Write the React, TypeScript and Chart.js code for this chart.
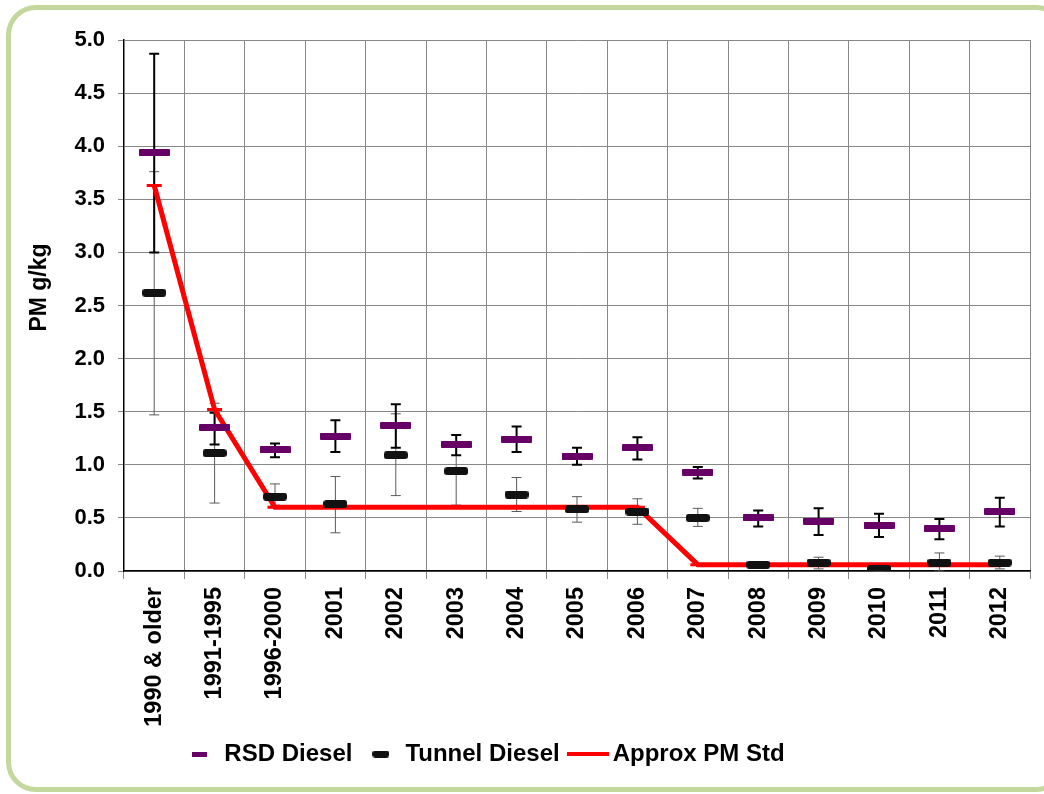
import React, { useEffect, useRef } from 'react';
import { Chart, registerables } from 'chart.js';

Chart.register(...registerables);

const categories = [
  '1990 & older', '1991-1995', '1996-2000', '2001', '2002', '2003', '2004', '2005',
  '2006', '2007', '2008', '2009', '2010', '2011', '2012',
];

const rsdDiesel = [3.94, 1.35, 1.14, 1.27, 1.37, 1.19, 1.24, 1.08, 1.16, 0.93, 0.5, 0.47, 0.43, 0.4, 0.56];
const rsdUpper = [4.87, 1.49, 1.2, 1.42, 1.57, 1.28, 1.36, 1.16, 1.26, 0.98, 0.57, 0.59, 0.54, 0.49, 0.69];
const rsdLower = [3.0, 1.19, 1.07, 1.12, 1.16, 1.09, 1.12, 1.0, 1.05, 0.87, 0.42, 0.34, 0.32, 0.3, 0.42];

const tunnelDiesel = [2.62, 1.11, 0.7, 0.63, 1.09, 0.94, 0.72, 0.58, 0.56, 0.5, 0.06, 0.08, 0.02, 0.08, 0.08];
const tunnelUpper = [3.76, 1.58, 0.82, 0.89, 1.48, 1.18, 0.88, 0.7, 0.68, 0.59, 0.08, 0.13, 0.04, 0.17, 0.14];
const tunnelLower = [1.47, 0.64, 0.62, 0.36, 0.71, 0.62, 0.56, 0.46, 0.44, 0.42, 0.04, 0.02, 0.0, 0.0, 0.02];

const approxPmStd = [3.63, 1.52, 0.6, 0.6, 0.6, 0.6, 0.6, 0.6, 0.6, 0.06, 0.06, 0.06, 0.06, 0.06, 0.06];

const yMin = 0;
const yMax = 5;
const yStep = 0.5;
const yTitle = 'PM g/kg';

const FONT = "'Liberation Sans', Arial, Helvetica, sans-serif";
const PURPLE = '#660066';
const TUNNEL = '#111111';
const RED = '#ff0000';

function makeDash(w: number, h: number, color: string, r: number): HTMLCanvasElement {
  const c = document.createElement('canvas');
  c.width = w;
  c.height = h;
  const ctx = c.getContext('2d')!;
  ctx.fillStyle = color;
  ctx.beginPath();
  if ((ctx as any).roundRect) (ctx as any).roundRect(0, 0, w, h, r);
  else ctx.rect(0, 0, w, h);
  ctx.fill();
  return c;
}

const errorBarsPlugin = {
  id: 'errorBars',
  beforeDatasetsDraw(chart: any) {
    const { ctx, scales } = chart;
    const x = scales.x;
    const y = scales.y;
    const draw = (hi: number[], lo: number[], color: string, lw: number, cap: number) => {
      ctx.save();
      ctx.strokeStyle = color;
      ctx.lineWidth = lw;
      categories.forEach((_, i) => {
        const px = x.getPixelForValue(i);
        const yt = y.getPixelForValue(hi[i]);
        const yb = y.getPixelForValue(lo[i]);
        ctx.beginPath();
        ctx.moveTo(px, yt);
        ctx.lineTo(px, yb);
        ctx.moveTo(px - cap / 2, yt);
        ctx.lineTo(px + cap / 2, yt);
        ctx.moveTo(px - cap / 2, yb);
        ctx.lineTo(px + cap / 2, yb);
        ctx.stroke();
      });
      ctx.restore();
    };
    draw(tunnelUpper, tunnelLower, '#5a5a5a', 1, 10);
    draw(rsdUpper, rsdLower, '#000000', 2, 10);
  },
};

const legendShiftPlugin = {
  id: 'legendShift',
  afterLayout(chart: any) {
    const lg = chart.legend;
    if (lg) lg.right -= 78;
  },
};

const yTitlePlugin = {
  id: 'yTitle',
  afterDraw(chart: any) {
    const { ctx, chartArea } = chart;
    const cy = (chartArea.top + chartArea.bottom) / 2 - 18;
    ctx.save();
    ctx.translate(40, cy);
    ctx.rotate(-Math.PI / 2);
    ctx.font = `bold 23px ${FONT}`;
    ctx.fillStyle = '#000';
    ctx.textAlign = 'center';
    ctx.textBaseline = 'middle';
    ctx.fillText(yTitle, 0, 0);
    ctx.restore();
  },
};

export default function App() {
  const canvasRef = useRef<HTMLCanvasElement | null>(null);

  useEffect(() => {
    if (!canvasRef.current) return;
    const rsdImg = makeDash(31, 7, PURPLE, 1);
    const tunImg = makeDash(24, 8, TUNNEL, 3);
    const legRsd = makeDash(15, 5, PURPLE, 0);
    const legTun = makeDash(17, 7, TUNNEL, 3);
    const legRed = makeDash(42, 4, RED, 0);

    const chart = new Chart(canvasRef.current, {
      type: 'line',
      data: {
        labels: categories,
        datasets: [
          {
            label: 'RSD Diesel',
            data: rsdDiesel,
            showLine: false,
            pointStyle: rsdImg as any,
            pointRadius: 5,
            borderColor: PURPLE,
            backgroundColor: PURPLE,
            order: 0,
          },
          {
            label: 'Tunnel Diesel',
            data: tunnelDiesel,
            showLine: false,
            pointStyle: tunImg as any,
            pointRadius: 5,
            borderColor: TUNNEL,
            backgroundColor: TUNNEL,
            order: 1,
          },
          {
            label: 'Approx PM Std',
            data: approxPmStd,
            borderColor: RED,
            backgroundColor: RED,
            borderWidth: 5,
            tension: 0,
            fill: false,
            pointStyle: 'line',
            pointRadius: 7.5,
            pointBorderWidth: 3,
            pointBorderColor: RED,
            order: 2,
          },
        ],
      },
      options: {
        animation: false,
        responsive: false,
        events: [],
        layout: { padding: { left: 20, top: 40, right: 14, bottom: 18 } },
        plugins: {
          tooltip: { enabled: false },
          legend: {
            position: 'bottom',
            onClick: () => {},
            labels: {
              usePointStyle: true,
              pointStyleWidth: 25,
              padding: 16,
              color: '#000',
              font: { family: FONT, size: 24, weight: 'bold' },
              generateLabels: () => [
                { text: 'RSD Diesel', pointStyle: legRsd as any, fillStyle: PURPLE, strokeStyle: PURPLE, lineWidth: 0, hidden: false, datasetIndex: 0 },
                { text: 'Tunnel Diesel', pointStyle: legTun as any, fillStyle: TUNNEL, strokeStyle: TUNNEL, lineWidth: 0, hidden: false, datasetIndex: 1 },
                { text: 'Approx PM Std', pointStyle: legRed as any, fillStyle: RED, strokeStyle: RED, lineWidth: 0, hidden: false, datasetIndex: 2 },
              ],
            },
          },
        },
        scales: {
          x: {
            type: 'category',
            offset: true,
            grid: { offset: true, color: '#888888', lineWidth: 1, tickLength: 8, drawTicks: true },
            border: { color: '#000000', width: 1.5 },
            ticks: {
              autoSkip: false,
              minRotation: 90,
              maxRotation: 90,
              padding: 8,
              color: '#000',
              font: { family: FONT, size: 23.5, weight: 'bold' },
            },
            afterFit: (s: any) => {
              s.height = 155;
            },
          },
          y: {
            min: yMin,
            max: yMax,
            ticks: {
              stepSize: yStep,
              padding: 13,
              color: '#000',
              font: { family: FONT, size: 22, weight: 'bold' },
              callback: (v: any) => Number(v).toFixed(1),
            },
            grid: { color: '#888888', lineWidth: 1, tickLength: 6 },
            border: { color: '#000000', width: 1.5 },
            title: { display: false, text: yTitle },
            afterFit: (s: any) => {
              s.width = 104;
            },
          },
        },
      } as any,
      plugins: [errorBarsPlugin, legendShiftPlugin, yTitlePlugin],
    });
    return () => chart.destroy();
  }, []);

  return (
    <div style={{ position: 'absolute', left: 0, top: 0, width: 1044, height: 794, overflow: 'hidden', background: '#fff' }}>
      <div
        style={{
          position: 'absolute',
          left: 6,
          top: 5,
          width: 1060,
          height: 787,
          boxSizing: 'border-box',
          border: '5px solid #c4d89e',
          borderRadius: 30,
        }}
      />
      <canvas ref={canvasRef} width={1044} height={794} style={{ position: 'absolute', left: 0, top: 0 }} />
    </div>
  );
}
